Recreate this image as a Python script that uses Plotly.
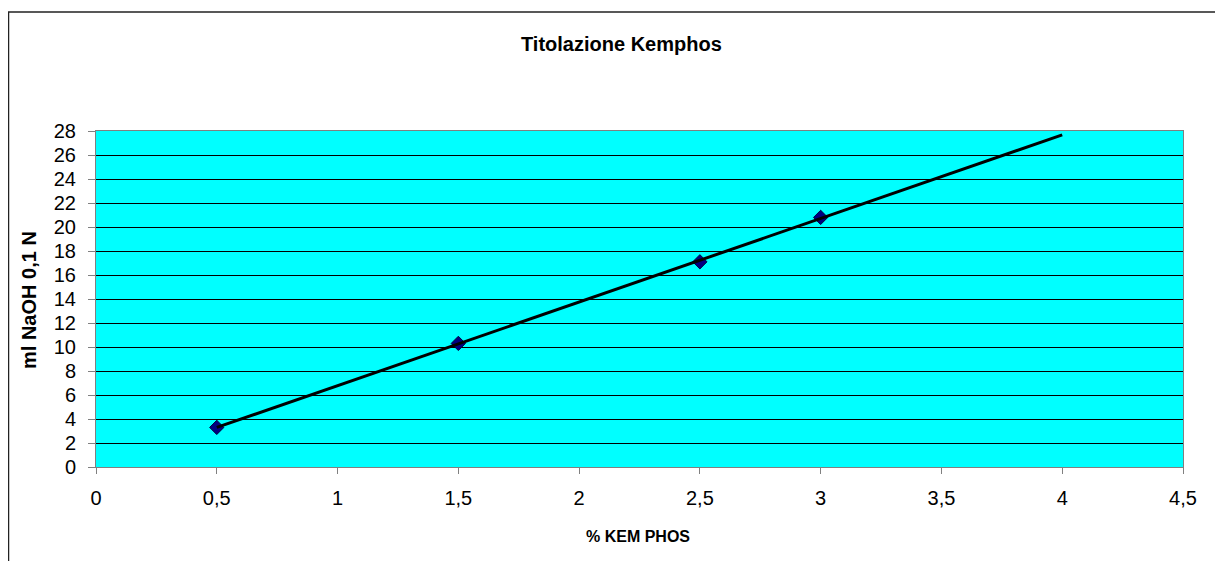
import numpy as np
import plotly.graph_objects as go

# Data
kemphos_pct = [0.5, 1.5, 2.5, 3.0]
naoh_ml = [3.3, 10.3, 17.1, 20.8]
trend_x_range = [0.5, 4.0]

x_ticks = [0, 0.5, 1, 1.5, 2, 2.5, 3, 3.5, 4, 4.5]
y_ticks = list(range(0, 29, 2))

title_text = "Titolazione Kemphos"
x_title = "% KEM PHOS"
y_title = "ml NaOH 0,1 N"

# Linear trendline (least squares) as in the original spreadsheet
slope, intercept = np.polyfit(kemphos_pct, naoh_ml, 1)
trend_y = [slope * x + intercept for x in trend_x_range]

# page has an 8px body margin; work in page pixels and convert
OFF = 8
W, H = 1223 - OFF, 561 - OFF
PL, PR, PT, PB = 96, 1183, 131, 467          # plot area in page pixels
L, T = PL - OFF, PT - OFF
R, B = W - (PR - OFF), H - (PB - OFF)
pw, ph = W - L - R, H - T - B


def px_x(px):
    return (px - PL) / pw


def px_y(py):
    return (PB - py) / ph


fig = go.Figure()
fig.add_trace(go.Scatter(
    x=kemphos_pct, y=naoh_ml, mode="markers",
    marker=dict(symbol="diamond", size=11, color="#000080",
                line=dict(color="#000040", width=1)),
    showlegend=False, cliponaxis=False,
))
fig.add_trace(go.Scatter(
    x=trend_x_range, y=trend_y, mode="lines",
    line=dict(color="black", width=3),
    showlegend=False, cliponaxis=False,
))

font_family = "Arial, 'Liberation Sans', sans-serif"

fig.update_layout(
    width=W, height=H,
    margin=dict(l=L, r=R, t=T, b=B, pad=0),
    paper_bgcolor="white",
    plot_bgcolor="#00FFFF",
    separators=", ",
    font=dict(family=font_family, color="black"),
    xaxis=dict(
        range=[0, 4.5], tickvals=x_ticks, showgrid=False, zeroline=False,
        showline=True, linecolor="#808080", linewidth=1, mirror=True,
        ticks="outside", ticklen=6, tickcolor="#808080",
        tickfont=dict(size=20), ticklabelstandoff=7,
    ),
    yaxis=dict(
        range=[0, 28], tickvals=y_ticks, showgrid=True, gridcolor="black",
        gridwidth=1, zeroline=False,
        showline=True, linecolor="#808080", linewidth=1, mirror=True,
        ticks="outside", ticklen=7, tickcolor="#808080",
        tickfont=dict(size=20), ticklabelstandoff=8,
    ),
)

fig.add_annotation(text="<b>" + title_text + "</b>", xref="paper", yref="paper",
                   x=px_x(621), y=px_y(44), xanchor="center", yanchor="middle",
                   showarrow=False, font=dict(size=20))
fig.add_annotation(text="<b>" + x_title + "</b>", xref="paper", yref="paper",
                   x=px_x(638), y=px_y(536), xanchor="center", yanchor="middle",
                   showarrow=False, font=dict(size=16))
fig.add_annotation(text="<b>" + y_title + "</b>", xref="paper", yref="paper",
                   x=px_x(29), y=px_y(300), xanchor="center", yanchor="middle",
                   textangle=-90, showarrow=False, font=dict(size=20))

# outer chart border (extends past right and bottom edges)
fig.add_shape(type="rect", xref="paper", yref="paper",
              x0=px_x(8.5), x1=px_x(1250),
              y0=px_y(600), y1=px_y(12),
              line=dict(color="#222222", width=1.5), fillcolor="rgba(0,0,0,0)",
              layer="below")

fig.write_html("out.html")
